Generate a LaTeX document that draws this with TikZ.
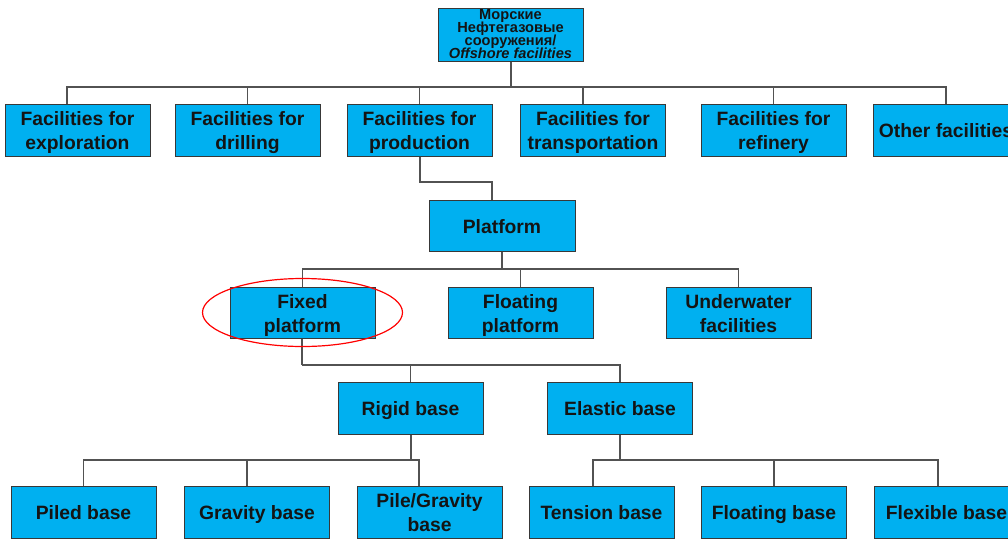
\documentclass[tikz,border=0pt]{standalone}
\usepackage{fontspec}
\setmainfont{Liberation Sans}
\definecolor{boxblue}{HTML}{00B0F0}
\newcommand{\ms}{\rule[-4.3pt]{0pt}{24pt}}
\newcommand{\tightlines}{\lineskiplimit=-8pt\relax}
\tikzset{
  unit/.style={draw=black!78, fill=boxblue, line width=1pt, minimum width=145pt,
    minimum height=52pt, inner sep=0pt, align=center, text=black!92,
    font=\bfseries\fontsize{19.3}{24}\selectfont},
  link/.style={draw=black!68, line width=1.3pt},
}
\begin{document}
\begin{tikzpicture}[x=1pt,y=-1pt]
        \useasboundingbox (0,0) rectangle (1008,538);
        \clip (0,0) rectangle (1008,538);

        \node[unit, minimum height=53pt, font=\bfseries\fontsize{14.6}{13}\selectfont\tightlines] (root) at (510.5,34.5)
            {Морские\\Нефтегазовые\\сооружения/\\\textit{Offshore facilities}};

        % first level
        \node[unit] (expl) at (77.5,130) {\ms Facilities for\\\ms exploration};
        \node[unit] (dril) at (247.5,130) {\ms Facilities for\\\ms drilling};
        \node[unit] (prod) at (419.5,130) {\ms Facilities for\\\ms production};
        \node[unit] (tran) at (593,130) {\ms Facilities for\\\ms transportation};
        \node[unit] (refi) at (773.5,130) {\ms Facilities for\\\ms refinery};
        \node[unit] (othr) at (946,130) {\ms Other facilities};

        \node[unit, minimum width=146pt, minimum height=51pt] (plat) at (502,225.5) {\ms Platform};

        % platform types
        \node[unit, minimum height=51pt] (fixd) at (302.5,312.5) {\ms Fixed\\\ms platform};
        \node[unit, minimum height=51pt] (flot) at (520.5,312.5) {\ms Floating\\\ms platform};
        \node[unit, minimum height=51pt] (undw) at (738.5,312.5) {\ms Underwater\\\ms facilities};

        \node[unit] (rigd) at (410.5,408) {\ms Rigid base};
        \node[unit] (elas) at (620,408) {\ms Elastic base};

        % bases
        \node[unit] (pile) at (83.5,512) {\ms Piled base};
        \node[unit] (grav) at (257,512) {\ms Gravity base};
        \node[unit] (pigr) at (429.5,512) {\ms Pile/Gravity\\\ms base};
        \node[unit] (tens) at (601.5,512) {\ms Tension base};
        \node[unit] (flbs) at (774,512) {\ms Floating base};
        \node[unit] (flex) at (946.5,512) {\ms Flexible base};

        \coordinate (j1) at (511,87);
        \coordinate (j2) at (420,182);
        \coordinate (j3) at (502,269);
        \coordinate (j4) at (302,365);
        \coordinate (j5) at (411,460);
        \coordinate (j6) at (620,460);

        \draw[link] (root.south -| j1) -- (j1);
        \draw[link] (j1) -| ([xshift=-10.5pt]expl.north);
        \draw[link] (j1) -| (dril.north);
        \draw[link] (j1) -| (prod.north);
        \draw[link] (j1) -| ([xshift=-10pt]tran.north);
        \draw[link] (j1) -| (refi.north);
        \draw[link] (j1) -| (othr.north);

        \draw[link] (prod.south -| j2) -- (j2) -| ([xshift=-10pt]plat.north);

        \draw[link] (plat.south) -- (j3);
        \foreach \n in {fixd,flot,undw}
            \draw[link] (j3) -| (\n.north);

        \draw[link] (fixd.south -| j4) -- (j4);
        \draw[link] (j4) -| (rigd.north);
        \draw[link] (j4) -| (elas.north);

        \draw[link] (rigd.south -| j5) -- (j5);
        \draw[link] (j5) -| (pile.north);
        \draw[link] (j5) -| ([xshift=-10pt]grav.north);
        \draw[link] (j5) -| ([xshift=-10.5pt]pigr.north);

        \draw[link] (elas.south) -- (j6);
        \draw[link] (j6) -| ([xshift=-8.5pt]tens.north);
        \draw[link] (j6) -| (flbs.north);
        \draw[link] (j6) -| ([xshift=-8.5pt]flex.north);

        \draw[red, line width=1.2pt] (fixd.center) ellipse [x radius=100pt, y radius=34pt];
\end{tikzpicture}
\end{document}
